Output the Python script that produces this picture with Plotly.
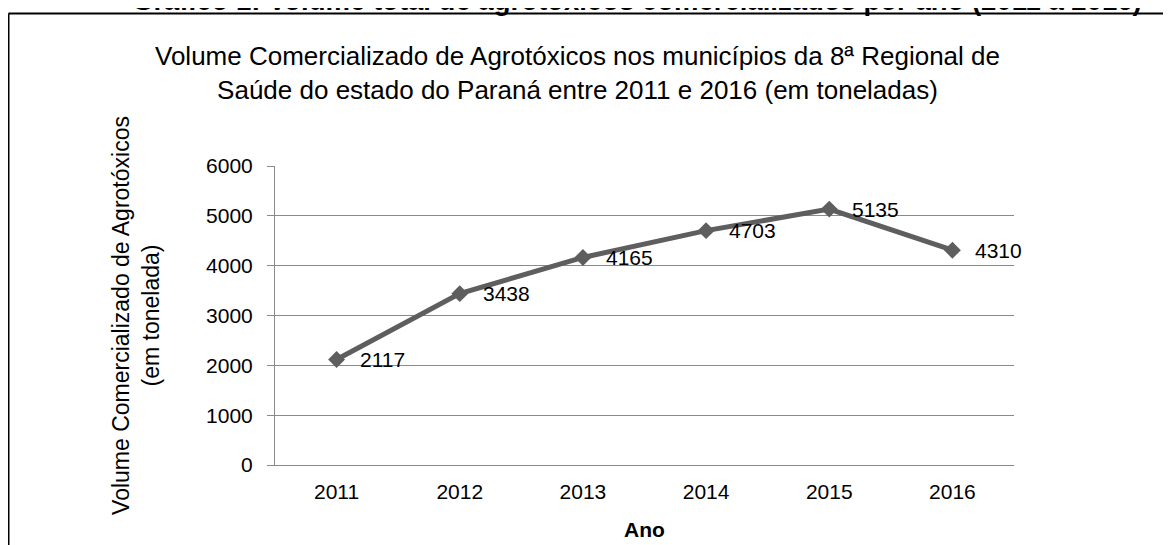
import plotly.graph_objects as go

# dados
anos = ['2011', '2012', '2013', '2014', '2015', '2016']
volume_t = [2117, 3438, 4165, 4703, 5135, 4310]
y_ticks = [0, 1000, 2000, 3000, 4000, 5000, 6000]

FONT = 'Liberation Sans, Arial, sans-serif'
W, H = 1171, 545
OFF = 8  # margem do body da página
M = {'l': 275 - OFF, 'r': W - 1014 + OFF, 't': 166 - OFF, 'b': H - 465 + OFF}
plot_w = W - M['l'] - M['r']
plot_h = H - M['t'] - M['b']


def px_x(px):
    # posição na tela -> coordenada paper
    return (px - OFF - M['l']) / plot_w


def px_y(py):
    return (H - M['b'] - (py - OFF)) / plot_h


fig = go.Figure()

fig.add_trace(go.Scatter(
    x=anos, y=volume_t,
    mode='lines+markers',
    line={'color': '#5e5e5e', 'width': 5},
    marker={'symbol': 'diamond', 'size': 13, 'color': '#5e5e5e'},
    cliponaxis=False,
    showlegend=False,
))

# rótulos de dados à direita dos pontos (eixo de categorias -> índice)
for i, v in enumerate(volume_t):
    fig.add_annotation(
        x=i, y=v, text=f'{v}', showarrow=False,
        xanchor='left', yanchor='middle', xshift=21,
        font={'size': 21, 'color': '#000000', 'family': FONT},
    )

fig.update_xaxes(
    type='category', range=[-0.5, 5.5],
    showline=True, linecolor='#8a8a8a', linewidth=1,
    showgrid=False, ticks='', ticklabelstandoff=8,
    tickfont={'size': 21, 'color': '#000000', 'family': FONT},
    title={'text': '<b>Ano</b>', 'font': {'size': 21, 'color': '#000000', 'family': FONT},
           'standoff': 20},
)
fig.update_yaxes(
    range=[0, 6000], tickvals=y_ticks,
    showline=True, linecolor='#8a8a8a', linewidth=1,
    showgrid=True, gridcolor='#8a8a8a', gridwidth=1,
    ticks='outside', ticklen=7, tickcolor='#8a8a8a',
    ticklabelstandoff=10,
    tickfont={'size': 21, 'color': '#000000', 'family': FONT},
    zeroline=False,
    title={'text': 'Volume Comercializado de Agrotóxicos<br>(em tonelada)',
           'font': {'size': 23, 'color': '#000000', 'family': FONT},
           'standoff': 40},
)

# título da figura (cortado no topo) e moldura do gráfico
fig.add_annotation(
    text='<b>Gráfico 1: Volume total de agrotóxicos comercializados por ano (2011 a 2016)</b>',
    xref='paper', yref='paper', x=px_x(637), y=px_y(18),
    xanchor='center', yanchor='bottom', showarrow=False,
    font={'size': 27.5, 'color': '#000000', 'family': FONT},
)
fig.add_annotation(
    text='Volume Comercializado de Agrotóxicos nos municípios da 8ª Regional de<br>'
         'Saúde do estado do Paraná entre 2011 e 2016 (em toneladas)',
    xref='paper', yref='paper', x=px_x(577), y=px_y(73),
    xanchor='center', yanchor='middle', showarrow=False,
    font={'size': 26, 'color': '#000000', 'family': FONT},
)
fig.add_shape(
    type='line', xref='paper', yref='paper',
    x0=px_x(8.5), x1=px_x(1200), y0=px_y(13.5), y1=px_y(13.5),
    line={'color': '#000000', 'width': 2},
)
fig.add_shape(
    type='line', xref='paper', yref='paper',
    x0=px_x(8.5), x1=px_x(8.5), y0=px_y(13.5), y1=px_y(600),
    line={'color': '#000000', 'width': 2},
)

fig.update_layout(
    width=W, height=H,
    margin=M,
    plot_bgcolor='white', paper_bgcolor='white',
    font={'family': FONT},
)

fig.write_html('out.html')
